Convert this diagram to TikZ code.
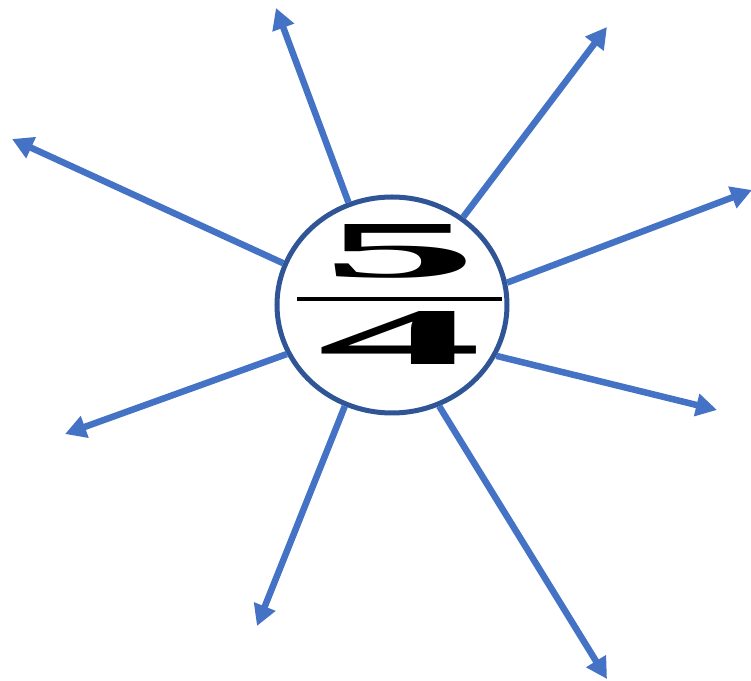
\documentclass[tikz,border=0pt]{standalone}
\usepackage{fontspec}
\setmainfont{Liberation Serif}
\usetikzlibrary{arrows.meta,shapes.geometric}
\definecolor{rayblue}{HTML}{4472C4}
\definecolor{rimblue}{HTML}{2F5597}
\begin{document}
\begin{tikzpicture}[
    x=0.2mm, y=-0.2mm,
    ring/.style={ellipse, draw=rimblue, fill=white, line width=1mm, minimum width=46mm, minimum height=43.2mm, inner sep=0pt},
    ray/.style={draw=rayblue, line width=1.3mm, -{Triangle[length=4.2mm,width=4.4mm]}},
    digit/.style={inner sep=0pt, outer sep=0pt}
]
\useasboundingbox (0,0) rectangle (751,681);

%% tips of the rays
\coordinate (t1) at (276,8);
\coordinate (t2) at (607,27);
\coordinate (t3) at (752,190);
\coordinate (t4) at (717,410);
\coordinate (t5) at (607,679);
\coordinate (t6) at (257,626);
\coordinate (t7) at (65,434);
\coordinate (t8) at (12,139);

%% rays
\path (392,305) node[ring] (c) {};
\draw[ray] (c.113) -- (t1);
\draw[ray] (c.51)  -- (t2);
\draw[ray] (c.11)  -- (t3);
\draw[ray] (c.-26) -- (t4);
\draw[ray] (c.-65) -- (t5);
\draw[ray] (c.245) -- (t6);
\draw[ray] (c.205) -- (t7);
\draw[ray] (c.159) -- (t8);

%% the fraction
\node[digit] (five) at (400,251) {\resizebox{31mm}{10.6mm}{\bfseries 5}};
\node[digit] (four) at (400,338) {\resizebox{33mm}{10.6mm}{\bfseries 4}};
\draw[line width=0.7mm] (297,299) -- (502,299);
\end{tikzpicture}
\end{document}
